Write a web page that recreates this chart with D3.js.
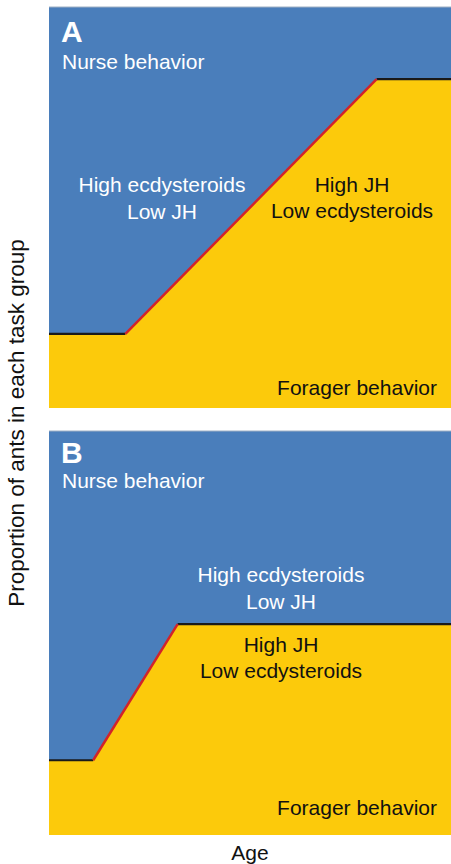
<!DOCTYPE html>
<html><head><meta charset="utf-8">
<script src="https://cdn.jsdelivr.net/npm/d3@7"></script>
<style>html,body{margin:0;padding:0;background:#fff;}svg{display:block;}</style>
</head><body>
<svg id="c" width="451" height="864"></svg>
<script>
// Age (fraction of lifespan) and proportion of foragers at each breakpoint
const panelLabels = ["A", "B"];
const ageA = [0, 0.19, 0.815, 1];
const foragerA = [0.185, 0.185, 0.82, 0.82];
const ageB = [0, 0.11, 0.32, 1];
const foragerB = [0.185, 0.185, 0.522, 0.522];
const nurseLabel = "Nurse behavior";
const foragerLabel = "Forager behavior";
const nurseHormones = ["High ecdysteroids", "Low JH"];
const foragerHormones = ["High JH", "Low ecdysteroids"];
const yTitle = "Proportion of ants in each task group";
const xTitle = "Age";

const BLUE = "#4a7ebb", YELLOW = "#fcca0b", RED = "#d2232a";
const svg = d3.select("#c");
const font = "Liberation Sans, Arial, Helvetica, sans-serif";
const FS = 21;

const panels = [
  {label: panelLabels[0], age: ageA, frac: foragerA, top: 7, bottom: 408,
   nursePos: [162, 192], foragerPos: [352, 192], labelY: 42, nurseY: 69, foragerY: 395},
  {label: panelLabels[1], age: ageB, frac: foragerB, top: 431, bottom: 835,
   nursePos: [281, 582], foragerPos: [281, 652], labelY: 463, nurseY: 488, foragerY: 815}
];
const left = 49, right = 451;

panels.forEach(p => {
  const x = d3.scaleLinear().domain([0, 1]).range([left, right]);
  const y = d3.scaleLinear().domain([0, 1]).range([p.bottom, p.top]);
  const g = svg.append("g");
  const pts = p.age.map((a, i) => [a, p.frac[i]]);
  g.append("rect").attr("x", x(0)).attr("y", y(1)).attr("width", x(1) - x(0)).attr("height", y(0) - y(1)).attr("fill", BLUE);
  g.append("line").attr("x1", x(0)).attr("x2", x(1)).attr("y1", y(1)).attr("y2", y(1)).attr("stroke", "#9fb0c4").attr("stroke-width", 1);
  const area = d3.area().x(d => x(d[0])).y0(y(0)).y1(d => y(d[1]));
  g.append("path").datum(pts).attr("d", area).attr("fill", YELLOW);
  const line = d3.line().x(d => x(d[0])).y(d => y(d[1]));
  g.append("path").datum(pts.slice(0, 2)).attr("d", line).attr("stroke", "#1a1a1a").attr("stroke-width", 2.2).attr("fill", "none");
  g.append("path").datum(pts.slice(2, 4)).attr("d", line).attr("stroke", "#1a1a1a").attr("stroke-width", 2.2).attr("fill", "none");
  g.append("path").datum(pts.slice(1, 3)).attr("d", line).attr("stroke", RED).attr("stroke-width", 2.5).attr("fill", "none");

  g.append("text").attr("x", 61).attr("y", p.labelY).text(p.label)
    .attr("font-family", font).attr("font-weight", "bold").attr("font-size", 30).attr("fill", "#fff");
  g.append("text").attr("x", 62).attr("y", p.nurseY).text(nurseLabel)
    .attr("font-family", font).attr("font-size", FS).attr("fill", "#fff");
  g.append("text").attr("x", 437).attr("y", p.foragerY).attr("text-anchor", "end").text(foragerLabel)
    .attr("font-family", font).attr("font-size", FS).attr("fill", "#111");
  nurseHormones.forEach((t, i) => {
    g.append("text").attr("x", p.nursePos[0]).attr("y", p.nursePos[1] + i * 27).attr("text-anchor", "middle").text(t)
      .attr("font-family", font).attr("font-size", FS).attr("fill", "#fff");
  });
  foragerHormones.forEach((t, i) => {
    g.append("text").attr("x", p.foragerPos[0]).attr("y", p.foragerPos[1] + i * 26).attr("text-anchor", "middle").text(t)
      .attr("font-family", font).attr("font-size", FS).attr("fill", "#111");
  });
});

svg.append("text").attr("transform", "translate(24,423) rotate(-90)").attr("text-anchor", "middle").text(yTitle)
  .attr("font-family", font).attr("font-size", 22.5).attr("fill", "#111");
svg.append("text").attr("x", 250).attr("y", 860).attr("text-anchor", "middle").text(xTitle)
  .attr("font-family", font).attr("font-size", 21).attr("fill", "#111");
</script>
</body></html>
